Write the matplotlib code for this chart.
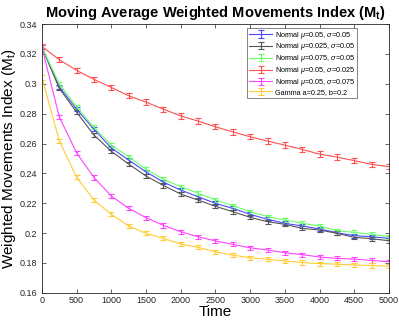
import matplotlib
matplotlib.use("Agg")
import matplotlib.pyplot as plt
from matplotlib.ticker import FuncFormatter

plt.rcParams['font.family'] = ['Liberation Sans', 'DejaVu Sans']
plt.rcParams['mathtext.fontset'] = 'custom'
plt.rcParams['mathtext.rm'] = 'Liberation Sans'
plt.rcParams['mathtext.it'] = 'Liberation Sans:italic'
plt.rcParams['mathtext.bf'] = 'Liberation Sans:bold'

time = [0, 250, 500, 750, 1000, 1250, 1500, 1750, 2000, 2250, 2500,
        2750, 3000, 3250, 3500, 3750, 4000, 4250, 4500, 4750, 5000]

normal_05_05 = [0.3245, 0.298, 0.283, 0.2695, 0.2570, 0.2489, 0.2410, 0.2341, 0.2288, 0.2243, 0.2199,
                0.2165, 0.2125, 0.2092, 0.2065, 0.2047, 0.2027, 0.2002, 0.1982, 0.1975, 0.1964]
normal_025_05 = [0.3245, 0.297, 0.281, 0.2656, 0.2548, 0.2462, 0.2382, 0.2319, 0.2261, 0.2221, 0.2179,
                 0.2143, 0.2105, 0.2076, 0.2058, 0.2031, 0.2020, 0.1998, 0.1971, 0.1962, 0.1948]
normal_075_05 = [0.3245, 0.300, 0.2846, 0.2708, 0.2589, 0.2511, 0.2427, 0.2360, 0.2310, 0.2266, 0.2222,
                 0.2183, 0.2143, 0.2110, 0.2087, 0.2065, 0.2047, 0.2016, 0.2004, 0.1991, 0.1975]
normal_05_025 = [0.325, 0.3162, 0.309, 0.303, 0.2976, 0.292, 0.2877, 0.283, 0.2785, 0.275, 0.2712,
                 0.2678, 0.2645, 0.2616, 0.2589, 0.256, 0.2529, 0.2509, 0.2485, 0.246, 0.2445]
normal_05_075 = [0.3245, 0.2779, 0.2537, 0.2372, 0.2248, 0.2165, 0.2103, 0.2051, 0.2009, 0.1975, 0.1947,
                 0.1924, 0.1901, 0.1886, 0.1868, 0.1855, 0.1839, 0.1830, 0.1825, 0.1816, 0.1808]
gamma_25_2 = [0.3043, 0.2619, 0.2373, 0.2221, 0.2125, 0.2047, 0.1998, 0.1964, 0.1926, 0.1904, 0.1874,
              0.1852, 0.1834, 0.1824, 0.1812, 0.1802, 0.1795, 0.1791, 0.1786, 0.1782, 0.1777]

errors = [0.0014, 0.0014, 0.0014, 0.0018, 0.0014, 0.0014]

labels = [r'Normal $\mu$=0.05, $\sigma$=0.05',
          r'Normal $\mu$=0.025, $\sigma$=0.05',
          r'Normal $\mu$=0.075, $\sigma$=0.05',
          r'Normal $\mu$=0.05, $\sigma$=0.025',
          r'Normal $\mu$=0.05, $\sigma$=0.075',
          'Gamma a=0.25, b=0.2']
colors = ['#4a4aff', '#555555', '#66ff66', '#ff5050', '#ff44ff', '#ffcc33']
series = [normal_05_05, normal_025_05, normal_075_05, normal_05_025, normal_05_075, gamma_25_2]

fig = plt.figure(figsize=(3.99, 3.22), dpi=100)
ax = fig.add_axes([0.105, 0.091, 0.87, 0.834])

for vals, err, col, lab in zip(series, errors, colors, labels):
    ax.errorbar(time, vals, yerr=err, color=col, lw=0.8, elinewidth=0.8,
                capsize=2, capthick=0.8, label=lab)

ax.set_xlim(0, 5000)
ax.set_ylim(0.16, 0.34)
ax.set_xticks(range(0, 5001, 500))
ax.set_yticks([0.16, 0.18, 0.2, 0.22, 0.24, 0.26, 0.28, 0.3, 0.32, 0.34])
ax.yaxis.set_major_formatter(FuncFormatter(lambda v, p: '%g' % round(v, 2)))
ax.tick_params(direction='in', top=True, right=True, labelsize=6.5,
               length=3, width=0.5, colors='#262626')
ax.tick_params(axis='x', pad=2.5)
for s in ax.spines.values():
    s.set_linewidth(0.6)
    s.set_color('#262626')

ax.set_title(r'Moving Average Weighted Movements Index (M$_\mathbf{t}$)',
             fontsize=10.5, fontweight='bold', pad=5)
ax.set_xlabel('Time', fontsize=11, labelpad=0)
ax.set_ylabel(r'Weighted Movements Index (M$_\mathrm{t}$)', fontsize=11, labelpad=1)

leg = ax.legend(loc='upper right', bbox_to_anchor=(0.912, 0.992), fontsize=5.2,
                frameon=True, fancybox=False, edgecolor='#262626', handlelength=3.2,
                borderpad=0.25, labelspacing=0.12, handletextpad=0.4, borderaxespad=0.2)
leg.get_frame().set_linewidth(0.5)

fig.savefig('out.png', dpi=100)
